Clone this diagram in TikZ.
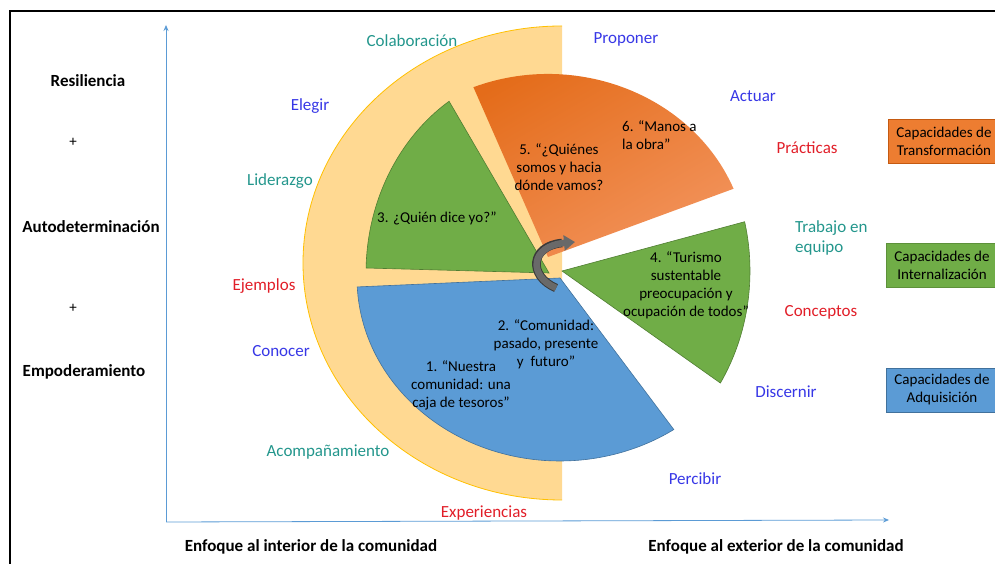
\documentclass[tikz,border=0pt]{standalone}
\usepackage{fontspec}
\setmainfont{Carlito}
\usetikzlibrary{arrows.meta}
\definecolor{axisblue}{RGB}{91,155,213}
\definecolor{ringfill}{RGB}{255,217,146}
\definecolor{ringline}{RGB}{255,192,0}
\definecolor{pieblue}{RGB}{91,155,213}
\definecolor{pieblueline}{RGB}{65,113,156}
\definecolor{piegreen}{RGB}{112,173,71}
\definecolor{piegreenline}{RGB}{80,126,50}
\definecolor{orgdark}{RGB}{228,108,26}
\definecolor{orglight}{RGB}{242,146,90}
\definecolor{orgbox}{RGB}{237,125,49}
\definecolor{orgline}{RGB}{197,90,17}
\definecolor{txtteal}{RGB}{35,150,140}
\definecolor{txtblue}{RGB}{55,55,230}
\definecolor{txtred}{RGB}{225,30,40}
\definecolor{arrowgray}{RGB}{105,105,105}

\begin{document}
\begin{tikzpicture}[x=1pt,y=1pt,
  lbl/.style={font=\fontsize{17}{20}\selectfont},
  bold node/.style={font=\fontsize{17}{20}\selectfont\bfseries},
  slice text/.style={align=center,font=\fontsize{15}{18}\selectfont},
  cap node/.style={draw,line width=0.8pt,align=center,minimum width=112,minimum height=44,font=\fontsize{15}{18}\selectfont},
  axis/.style={draw=axisblue,line width=0.8pt,-{Stealth[length=6pt,width=5pt]}}]

  \useasboundingbox (0,0) rectangle (995,564);
  \draw[line width=2.4pt] (10,-10) -- (10,553);
  \draw[line width=1.3pt] (9,553) -- (1010,553);

  \coordinate (o) at (166,42);
  \coordinate (ytop) at (166,539);
  \coordinate (xend) at (889,44);
  \draw[axis] (o) -- (ytop);
  \draw[axis] (o) -- (xend);

  \fill[ringfill] (562,538) arc[start angle=90,end angle=270,x radius=259,y radius=237] -- cycle;
  \draw[ringline,line width=0.8pt] (562,538) arc[start angle=90,end angle=270,x radius=259,y radius=237];

  \coordinate (c12) at (560,286);
  \coordinate (c3) at (549,291);
  \coordinate (c4) at (562,293);
  \coordinate (c56) at (548,307);
  \filldraw[fill=pieblue,draw=pieblueline,line width=0.6pt] (c12) -- ++(182.8:203 and 183)
    arc[start angle=182.8,end angle=304.1,x radius=203,y radius=183] -- cycle;
  \filldraw[fill=piegreen,draw=piegreenline,line width=0.6pt] (c3) -- ++(123.1:183 and 205)
    arc[start angle=123.1,end angle=178.6,x radius=183,y radius=205] -- cycle;
  \filldraw[fill=piegreen,draw=piegreenline,line width=0.6pt] (c4) -- ++(-32.6:188 and 208)
    arc[start angle=-32.6,end angle=13.7,x radius=188,y radius=208] -- cycle;
  \shade[top color=orgdark,bottom color=orglight,shading angle=30] (c56) -- ++(21.9:200 and 183)
    arc[start angle=21.9,end angle=111.9,x radius=200,y radius=183] -- cycle;

  \coordinate (turn0) at (556,276);
  \coordinate (turn1) at (575,322);
  \draw[arrowgray!55!black,line width=8.6pt] (turn0) .. controls (528,288) and (530,318) .. (562,321);
  \draw[arrowgray,line width=6.6pt,-{Triangle[length=11pt,width=15pt]}] (turn0) .. controls (528,288) and (530,318) .. (turn1);

  \node[slice text] (s3) at (437,346) {3. ¿Quién dice yo?”};
  \node[slice text] (s5) at (559,397) {5. “¿Quiénes\\somos y hacia\\dónde vamos?};
  \node[slice text,align=left,anchor=west,inner sep=0pt] (s6) at (622,429) {6. “Manos a\\la obra”};
  \node[slice text] (s4) at (686,279) {4. “Turismo\\sustentable\\preocupación y\\ocupación de todos”};
  \node[slice text] (s2) at (546,220) {2. “Comunidad:\\pasado, presente\\y~ futuro”};
  \node[slice text] (s1) at (461,179) {1. “Nuestra\\comunidad: una\\caja de tesoros”};

  \node[lbl,txtteal] (colab) at (412,523) {Colaboración};
  \node[lbl,txtblue] (proponer) at (626,525) {Proponer};
  \node[lbl,txtblue] (elegir) at (310,458) {Elegir};
  \node[lbl,txtblue] (actuar) at (753,468) {Actuar};
  \node[lbl,txtred] (practicas) at (807,416) {Prácticas};
  \node[lbl,txtteal] (liderazgo) at (280,383) {Liderazgo};
  \node[lbl,txtteal,align=left,anchor=west,inner sep=0pt] (trabajo) at (795,326) {Trabajo en\\equipo};
  \node[lbl,txtred] (ejemplos) at (264,278) {Ejemplos};
  \node[lbl,txtblue] (conocer) at (281,213) {Conocer};
  \node[lbl,txtred] (conceptos) at (821,252) {Conceptos};
  \node[lbl,txtblue] (discernir) at (786,172) {Discernir};
  \node[lbl,txtteal] (acomp) at (328,112) {Acompañamiento};
  \node[lbl,txtblue] (percibir) at (695,85) {Percibir};
  \node[lbl,txtred] (experiencias) at (484,51) {Experiencias};

  \node[bold node] (resil) at (88,483) {Resiliencia};
  \node[font=\fontsize{15}{18}\selectfont] (plus1) at (73,422) {+};
  \node[bold node] (autodet) at (91,337) {Autodeterminación};
  \node[font=\fontsize{15}{18}\selectfont] (plus2) at (73,256) {+};
  \node[bold node] (empod) at (84,192) {Empoderamiento};
  \node[bold node] (interior) at (311,17) {Enfoque al interior de la comunidad};
  \node[bold node] (exterior) at (776,17) {Enfoque al exterior de la comunidad};

  \node[cap node,fill=orgbox,draw=orgline] (tbox) at (944,423) {Capacidades de\\Transformación};
  \node[cap node,fill=piegreen,draw=piegreenline!60!piegreen] (ibox) at (942,299) {Capacidades de\\Internalización};
  \node[cap node,fill=pieblue,draw=pieblueline] (abox) at (942,174) {Capacidades de\\Adquisición};
\end{tikzpicture}
\end{document}
